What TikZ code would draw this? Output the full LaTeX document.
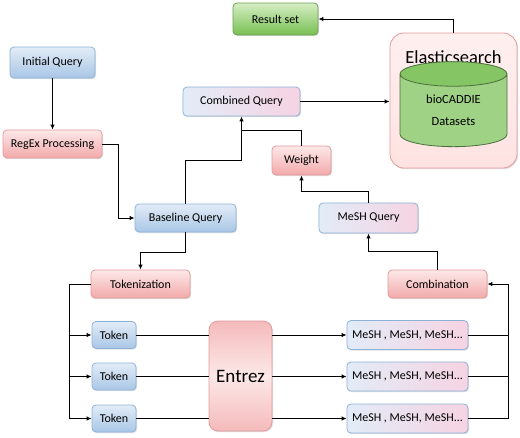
\documentclass[tikz,border=0pt]{standalone}
\usepackage{fontspec}
\setmainfont{Carlito}
\usetikzlibrary{arrows.meta,shapes.geometric,shadows}
\definecolor{bluetop}{HTML}{E2ECF7}
\definecolor{bluebot}{HTML}{A9C6E6}
\definecolor{blueline}{HTML}{8DB2D8}
\definecolor{pinktop}{HTML}{FDE8E8}
\definecolor{pinkbot}{HTML}{F2A9AA}
\definecolor{pinkline}{HTML}{E39A9C}
\definecolor{greentop}{HTML}{D6EEC4}
\definecolor{greenbot}{HTML}{78BF52}
\definecolor{greenline}{HTML}{6A9F55}
\definecolor{mixpink}{HTML}{F6D3E3}
\tikzset{
  box/.style={draw,line width=0.8pt,rounded corners=4pt,align=center,
    font=\fontsize{12}{14}\selectfont,inner sep=0pt,text=black,
    drop shadow={opacity=0.25,shadow xshift=1pt,shadow yshift=-1.2pt}},
  bluebox/.style={box,draw=blueline,top color=bluetop,bottom color=bluebot},
  pinkbox/.style={box,draw=pinkline,top color=pinktop,bottom color=pinkbot},
  greenbox/.style={box,draw=greenline,top color=greentop,bottom color=greenbot},
  mixbox/.style={box,draw=blueline,left color=bluetop,right color=mixpink},
  arr/.style={line width=1pt,-{Latex[length=5pt,width=4.5pt]}},
  ln/.style={line width=1pt}
}
\begin{document}
\begin{tikzpicture}[x=1pt,y=-1pt]
\useasboundingbox[fill=white] (0,0) rectangle (520,437);
% upper part
\node[greenbox,minimum width=85pt,minimum height=32pt] (result) at (275.5,19) {Result set};
\node[draw=pinkline,top color=pink!25,bottom color=pink!45,line width=0.8pt,rounded corners=14pt,
  minimum width=127pt,minimum height=135pt,
  drop shadow={opacity=0.25,shadow xshift=1pt,shadow yshift=-1.2pt}] (elastic) at (453.5,100.5) {};
\node[font=\fontsize{18.5}{22}\selectfont] (elastxt) at (453.5,57) {Elasticsearch};
\node[cylinder,shape border rotate=90,aspect=0.45,draw=greenline!70!black,line width=0.8pt,
  cylinder uses custom fill,cylinder body fill=greenbot!70,cylinder end fill=greenbot!90,
  minimum width=107pt,minimum height=85pt,align=center,inner sep=0pt,
  font=\fontsize{12.5}{22}\selectfont] (datasets) at (453.5,110.5) {bioCADDIE\\Datasets};
\node[bluebox,minimum width=85pt,minimum height=31pt] (initq) at (52.5,62.5) {Initial Query};
\node[pinkbox,minimum width=99pt,minimum height=28pt] (regex) at (52.5,144) {RegEx Processing};
\node[mixbox,minimum width=117pt,minimum height=29pt] (combq) at (241.5,101.5) {Combined Query};
\node[bluebox,minimum width=101pt,minimum height=28pt] (baseq) at (185.5,218) {Baseline Query};
\node[pinkbox,minimum width=59pt,minimum height=29pt] (weight) at (301.5,160.5) {Weight};
\node[mixbox,minimum width=99pt,minimum height=30pt] (meshq) at (368.5,218) {MeSH Query};
% lower part
\node[pinkbox,minimum width=99pt,minimum height=28pt] (tokz) at (140.5,284) {Tokenization};
\node[pinkbox,minimum width=99pt,minimum height=28pt] (comb) at (437.5,284) {Combination};
\node[box,draw=pinkline,top color=pinkbot!80,bottom color=pinkbot!80,middle color=pinktop,
  minimum width=63pt,minimum height=110pt,rounded corners=9pt,
  font=\fontsize{19}{22}\selectfont] (entrez) at (240.5,376) {Entrez};
\foreach \i/\y in {1/335,2/376.5,3/418.5}{
  \node[bluebox,minimum width=44pt,minimum height=27pt] (tok\i) at (114,\y) {Token};
  \node[mixbox,minimum width=121pt,minimum height=29pt] (mesh\i) at (407.5,\y) {MeSH , MeSH, MeSH...};
}
% connectors
\coordinate (c1) at (118,144);
\coordinate (j1) at (241.5,160);
\coordinate (j2) at (241.5,130);
\coordinate (j3) at (301.5,191);
\coordinate (j4) at (140.5,252);
\coordinate (j5) at (368.5,251);
\coordinate (tl) at (69,284);
\coordinate (tr) at (508,284);
\draw[arr] (initq.south) -- (regex.north);
\draw[arr] (regex.east) -- (c1) |- (baseq.west);
\draw[arr] (baseq.north) |- (j1) -- (combq.south);
\draw[ln] (weight.north) |- (j2);
\draw[arr] (meshq.north) |- (j3) -- (weight.south);
\draw[arr] (baseq.south) |- (j4) -- (tokz.north);
\draw[arr] (comb.north) |- (j5) -- (meshq.south);
\draw[arr] (combq.east) -- (elastic.west |- combq.east);
\draw[arr] (elastic.north) |- (result.east);
\draw[ln] (tokz.west) -- (tl) -- (tl |- tok3);
\draw[arr] (tr |- mesh3) -- (tr) -- (comb.east);
\foreach \i in {1,2,3}{
  \draw[arr] (tl |- tok\i) -- (tok\i.west);
  \draw[ln] (tok\i.east) -- (entrez.west |- tok\i);
  \draw[arr] (entrez.east |- mesh\i) -- (mesh\i.west);
  \draw[ln] (mesh\i.east) -- (tr |- mesh\i);
}
\end{tikzpicture}
\end{document}
